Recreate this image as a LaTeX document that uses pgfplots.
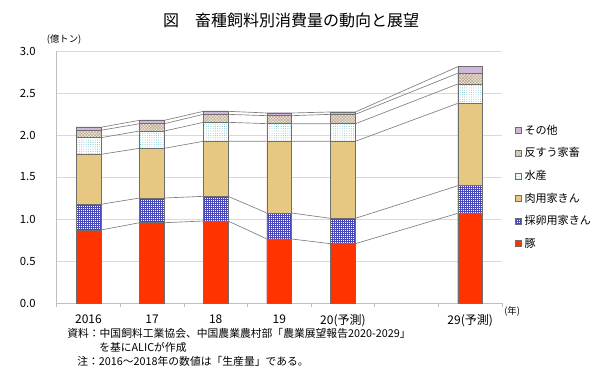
\documentclass[border=0pt]{standalone}
\usepackage{fontspec}
\setmainfont{Noto Sans CJK JP}
\usepackage{pgfplots}
\pgfplotsset{compat=1.18}
\usepackage{pgfplotstable}
\usetikzlibrary{patterns.meta}

\definecolor{pork}{HTML}{FF3300}
\definecolor{eggpat}{HTML}{4848B8}
\definecolor{broiler}{HTML}{E6C882}
\definecolor{fishpat}{HTML}{5FB8C8}
\definecolor{rumfill}{HTML}{EEE6DA}
\definecolor{rumpat}{HTML}{B8A48C}
\definecolor{othfill}{HTML}{E6D2EC}
\definecolor{othpat}{HTML}{8A5AA6}
\definecolor{bordergray}{HTML}{6E6E6E}
\definecolor{linegray}{HTML}{808080}
\definecolor{gridgray}{HTML}{D9D9D9}
\definecolor{axisgray}{HTML}{BFBFBF}

% cumulative tops of each layer
\pgfplotstableread{
x c1 c2 c3 c4 c5 c6
0 0.869 1.175 1.770 1.968 2.056 2.092
1 0.956 1.250 1.842 2.048 2.135 2.175
2 0.976 1.270 1.925 2.151 2.246 2.282
3 0.762 1.071 1.925 2.135 2.230 2.262
4 0.706 1.008 1.925 2.134 2.246 2.274
6 1.068 1.396 2.377 2.607 2.735 2.813
}\bars

% same values at the bar edges, for the series lines
\pgfplotstableread{
x c1 c2 c3 c4 c5 c6
-0.195 0.869 1.175 1.770 1.968 2.056 2.092
0.195 0.869 1.175 1.770 1.968 2.056 2.092
0.805 0.956 1.250 1.842 2.048 2.135 2.175
1.195 0.956 1.250 1.842 2.048 2.135 2.175
1.805 0.976 1.270 1.925 2.151 2.246 2.282
2.195 0.976 1.270 1.925 2.151 2.246 2.282
2.805 0.762 1.071 1.925 2.135 2.230 2.262
3.195 0.762 1.071 1.925 2.135 2.230 2.262
3.805 0.706 1.008 1.925 2.134 2.246 2.274
4.195 0.706 1.008 1.925 2.134 2.246 2.274
5.805 1.068 1.396 2.377 2.607 2.735 2.813
6.195 1.068 1.396 2.377 2.607 2.735 2.813
}\edges

\begin{document}
\begin{tikzpicture}
\useasboundingbox (0pt,0pt) rectangle (450pt,276.75pt);
\begin{axis}[
  at={(42.5pt,49.5pt)}, anchor=south west,
  scale only axis, width=334pt, height=189pt,
  xmin=-0.5, xmax=6.5, ymin=0, ymax=3,
  axis x line*=bottom, axis y line*=left,
  axis line style={draw=axisgray, line width=0.6pt},
  xtick={0,1,2,3,4,6},
  xticklabels={2016,17,18,19,{20(予測)},{29(予測)}},
  minor xtick={-0.5,0.5,...,6.5},
  major x tick style={draw=none},
  minor x tick style={draw=axisgray, line width=0.6pt},
  minor tick length=3pt,
  tick align=outside,
  ytick={0,0.5,...,3},
  ytick style={draw=none},
  ymajorgrids,
  major grid style={draw=gridgray, line width=0.6pt},
  /pgf/number format/assume math mode=true,
  yticklabel style={/pgf/number format/fixed, /pgf/number format/fixed zerofill, /pgf/number format/precision=1},
  yticklabel style={font=\fontsize{8.5}{10}\selectfont, xshift=-8pt},
  xticklabel style={font=\fontsize{9}{11}\selectfont, yshift=-1pt},
  legend style={at={(1.029,0.718)}, anchor=north west, draw=none, fill=none,
    font=\fontsize{8.3}{10}\selectfont, row sep=4.5pt, inner sep=0pt},
  legend cell align=left,
  legend image code/.code={\draw[#1] (0pt,-2.3pt) rectangle (4.6pt,2.3pt);},
]
\addplot[forget plot, draw=linegray, line width=0.5pt, mark=none, sharp plot] table[x=x,y=c1]{\edges};
\addplot[forget plot, draw=linegray, line width=0.5pt, mark=none, sharp plot] table[x=x,y=c2]{\edges};
\addplot[forget plot, draw=linegray, line width=0.5pt, mark=none, sharp plot] table[x=x,y=c3]{\edges};
\addplot[forget plot, draw=linegray, line width=0.5pt, mark=none, sharp plot] table[x=x,y=c4]{\edges};
\addplot[forget plot, draw=linegray, line width=0.5pt, mark=none, sharp plot] table[x=x,y=c5]{\edges};
\addplot[forget plot, draw=linegray, line width=0.5pt, mark=none, sharp plot] table[x=x,y=c6]{\edges};

\addplot[ybar, bar width=0.39, bar shift=0pt, draw=bordergray, line width=0.4pt, fill=othfill,
  postaction={pattern={Dots[distance=1.5pt, radius=0.4pt]}, pattern color=othpat}]
  table[x=x,y=c6]{\bars};
\addlegendentry{その他}
\addplot[ybar, bar width=0.39, bar shift=0pt, draw=bordergray, line width=0.4pt, fill=rumfill,
  postaction={pattern={Hatch[angle=45, distance=1.6pt, line width=0.3pt]}, pattern color=rumpat}]
  table[x=x,y=c5]{\bars};
\addlegendentry{反すう家畜}
\addplot[ybar, bar width=0.39, bar shift=0pt, draw=bordergray, line width=0.4pt, fill=white,
  postaction={pattern={Dots[distance=1.7pt, radius=0.33pt]}, pattern color=fishpat}]
  table[x=x,y=c4]{\bars};
\addlegendentry{水産}
\addplot[ybar, bar width=0.39, bar shift=0pt, draw=bordergray, line width=0.4pt, fill=broiler]
  table[x=x,y=c3]{\bars};
\addlegendentry{肉用家きん}
\addplot[ybar, bar width=0.39, bar shift=0pt, draw=bordergray, line width=0.4pt, fill=white,
  postaction={pattern={Hatch[distance=1.5pt, line width=0.32pt]}, pattern color=eggpat}]
  table[x=x,y=c2]{\bars};
\addlegendentry{採卵用家きん}
\addplot[ybar, bar width=0.39, bar shift=0pt, draw=bordergray, line width=0.4pt, fill=pork]
  table[x=x,y=c1]{\bars};
\addlegendentry{豚}
\end{axis}

\node[font=\fontsize{12}{14}\selectfont] at (218.25pt,261.75pt) {図　畜種飼料別消費量の動向と展望};
\node[font=\fontsize{7}{8}\selectfont, anchor=west, inner sep=0pt] at (35pt,246.75pt) {(億トン)};
\node[font=\fontsize{7}{8}\selectfont, anchor=west, inner sep=0pt] at (378pt,43.5pt) {(年)};
\node[font=\fontsize{8.1}{10}\selectfont, anchor=west, inner sep=0pt] at (50.25pt,27pt) {資料：中国飼料工業協会、中国農業農村部「農業展望報告2020-2029」};
\node[font=\fontsize{8.1}{10}\selectfont, anchor=west, inner sep=0pt] at (74.25pt,16.5pt) {を基にALICが作成};
\node[font=\fontsize{8.1}{10}\selectfont, anchor=west, inner sep=0pt] at (57.75pt,6pt) {注：2016～2018年の数値は「生産量」である。};
\end{tikzpicture}
\end{document}
